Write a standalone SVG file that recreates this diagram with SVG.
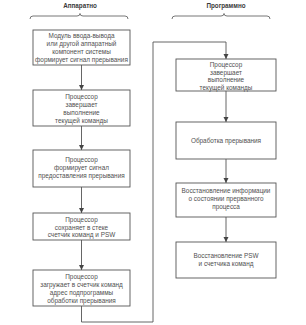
<svg xmlns="http://www.w3.org/2000/svg" width="306" height="325" viewBox="0 0 306 325">
<defs>
<marker id="ah" markerWidth="6" markerHeight="6" refX="5" refY="3" orient="auto" markerUnits="userSpaceOnUse">
<path d="M0,0.5 L5,3 L0,5.5 Z" fill="#444"/>
</marker>
<style>
.b{fill:#fff;stroke:#555;stroke-width:0.9}
.t{font-family:"Liberation Sans",Arial,sans-serif;font-size:6.4px;fill:#505050;text-anchor:middle}
.h{font-family:"Liberation Sans",Arial,sans-serif;font-size:6.3px;font-weight:bold;fill:#3a3a3a;text-anchor:middle}
.c{fill:none;stroke:#555;stroke-width:0.9}
.br{fill:none;stroke:#666;stroke-width:0.9}
</style>
</defs>
<rect width="306" height="325" fill="#fff"/>
<g id="headers">
<text class="h" x="80" y="8">Аппаратно</text>
<path class="br" d="M30,19 Q30,16 33,16 L77,16 Q80,16 80,13.5 Q80,16 83,16 L125,16 Q128,16 128,19"/>
<text class="h" x="226" y="8">Программно</text>
<path class="br" d="M172,19 Q172,16 175,16 L221,16 Q224,16 224,13.5 Q224,16 227,16 L267,16 Q270,16 270,19"/>
</g>
<g id="connectors">
<line class="c" x1="81.5" y1="65" x2="81.5" y2="90" marker-end="url(#ah)"/>
<line class="c" x1="81.5" y1="126" x2="81.5" y2="150" marker-end="url(#ah)"/>
<line class="c" x1="81.5" y1="187" x2="81.5" y2="213" marker-end="url(#ah)"/>
<line class="c" x1="81.5" y1="240" x2="81.5" y2="270" marker-end="url(#ah)"/>
<path class="c" d="M81.5,306 L81.5,322 L153,322 L153,42 L226,42 L226,59" marker-end="url(#ah)"/>
<line class="c" x1="226" y1="91" x2="226" y2="122" marker-end="url(#ah)"/>
<line class="c" x1="226" y1="159" x2="226" y2="183" marker-end="url(#ah)"/>
<line class="c" x1="226" y1="217" x2="226" y2="242" marker-end="url(#ah)"/>
</g>
<g id="n1">
<rect class="b" x="33" y="30" width="97" height="35"/>
<text class="t" x="81.5" y="37.5">Модуль ввода-вывода</text>
<text class="t" x="81.5" y="45.5">или другой аппаратный</text>
<text class="t" x="81.5" y="53.5">компонент системы</text>
<text class="t" x="81.5" y="61.5">формирует сигнал прерывания</text>
</g>
<g id="n2">
<rect class="b" x="33" y="90" width="97" height="36"/>
<text class="t" x="81.5" y="99">Процессор</text>
<text class="t" x="81.5" y="107">завершает</text>
<text class="t" x="81.5" y="115">выполнение</text>
<text class="t" x="81.5" y="123">текущей команды</text>
</g>
<g id="n3">
<rect class="b" x="33" y="150" width="97" height="37"/>
<text class="t" x="81.5" y="162">Процессор</text>
<text class="t" x="81.5" y="170">формирует сигнал</text>
<text class="t" x="81.5" y="178">предоставления прерывания</text>
</g>
<g id="n4">
<rect class="b" x="33" y="213" width="97" height="27"/>
<text class="t" x="81.5" y="222">Процессор</text>
<text class="t" x="81.5" y="229.5">сохраняет в стеке</text>
<text class="t" x="81.5" y="237">счетчик команд и PSW</text>
</g>
<g id="n5">
<rect class="b" x="33" y="270" width="97" height="36"/>
<text class="t" x="81.5" y="279">Процессор</text>
<text class="t" x="81.5" y="287">загружает в счетчик команд</text>
<text class="t" x="81.5" y="295">адрес подпрограммы</text>
<text class="t" x="81.5" y="303">обработки прерывания</text>
</g>
<g id="n6">
<rect class="b" x="176" y="59" width="100" height="32"/>
<text class="t" x="226" y="67">Процессор</text>
<text class="t" x="226" y="74.5">завершает</text>
<text class="t" x="226" y="82">выполнение</text>
<text class="t" x="226" y="89.5">текущей команды</text>
</g>
<g id="n7">
<rect class="b" x="176" y="122" width="100" height="37"/>
<text class="t" x="226" y="142.5">Обработка прерывания</text>
</g>
<g id="n8">
<rect class="b" x="176" y="183" width="100" height="34"/>
<text class="t" x="226" y="193">Восстановление информации</text>
<text class="t" x="226" y="201">о состоянии прерванного</text>
<text class="t" x="226" y="209">процесса</text>
</g>
<g id="n9">
<rect class="b" x="176" y="242" width="100" height="36"/>
<text class="t" x="226" y="258">Восстановление PSW</text>
<text class="t" x="226" y="266">и счетчика команд</text>
</g>
</svg>
